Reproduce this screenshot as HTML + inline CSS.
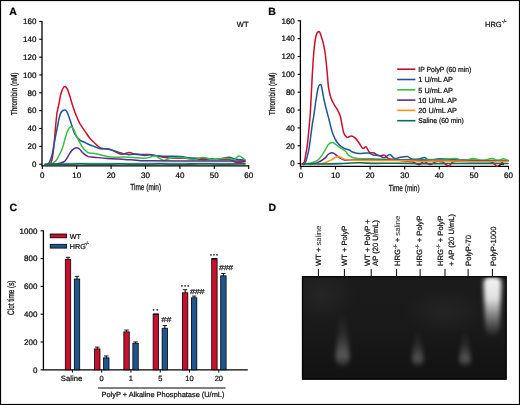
<!DOCTYPE html><html><head><meta charset="utf-8"><style>html,body{margin:0;padding:0;background:#fff;}svg{display:block;text-rendering:geometricPrecision;filter:blur(0.25px);} text{stroke:#000;stroke-width:0.22px;paint-order:stroke;}</style></head><body><svg style="will-change:transform" width="520" height="405" viewBox="0 0 520 405" font-family="Liberation Sans, sans-serif">
<rect x="0" y="0" width="520" height="405" fill="#fff"/>
<text x="9.3" y="14.8" font-size="10.5" font-weight="bold">A</text>
<text x="236.8" y="27" font-size="7.5" fill="#111">WT</text>
<line x1="42" y1="20.90" x2="42" y2="165.8" stroke="#000" stroke-width="1.3"/>
<line x1="39.2" y1="164.20" x2="42" y2="164.20" stroke="#000" stroke-width="1.1"/>
<text x="36.4" y="167.00" text-anchor="end" font-size="8" fill="#000">0</text>
<line x1="39.2" y1="146.35" x2="42" y2="146.35" stroke="#000" stroke-width="1.1"/>
<text x="36.4" y="149.15" text-anchor="end" font-size="8" fill="#000">20</text>
<line x1="39.2" y1="128.50" x2="42" y2="128.50" stroke="#000" stroke-width="1.1"/>
<text x="36.4" y="131.30" text-anchor="end" font-size="8" fill="#000">40</text>
<line x1="39.2" y1="110.65" x2="42" y2="110.65" stroke="#000" stroke-width="1.1"/>
<text x="36.4" y="113.45" text-anchor="end" font-size="8" fill="#000">60</text>
<line x1="39.2" y1="92.80" x2="42" y2="92.80" stroke="#000" stroke-width="1.1"/>
<text x="36.4" y="95.60" text-anchor="end" font-size="8" fill="#000">80</text>
<line x1="39.2" y1="74.95" x2="42" y2="74.95" stroke="#000" stroke-width="1.1"/>
<text x="36.4" y="77.75" text-anchor="end" font-size="8" fill="#000">100</text>
<line x1="39.2" y1="57.10" x2="42" y2="57.10" stroke="#000" stroke-width="1.1"/>
<text x="36.4" y="59.90" text-anchor="end" font-size="8" fill="#000">120</text>
<line x1="39.2" y1="39.25" x2="42" y2="39.25" stroke="#000" stroke-width="1.1"/>
<text x="36.4" y="42.05" text-anchor="end" font-size="8" fill="#000">140</text>
<line x1="39.2" y1="21.40" x2="42" y2="21.40" stroke="#000" stroke-width="1.1"/>
<text x="36.4" y="24.20" text-anchor="end" font-size="8" fill="#000">160</text>
<line x1="41.4" y1="165.8" x2="249.2" y2="165.8" stroke="#000" stroke-width="1.3"/>
<line x1="42.30" y1="165.8" x2="42.30" y2="169.0" stroke="#000" stroke-width="1.1"/>
<text x="42.30" y="177.8" text-anchor="middle" font-size="8" fill="#000">0</text>
<line x1="76.70" y1="165.8" x2="76.70" y2="169.0" stroke="#000" stroke-width="1.1"/>
<text x="76.70" y="177.8" text-anchor="middle" font-size="8" fill="#000">10</text>
<line x1="111.10" y1="165.8" x2="111.10" y2="169.0" stroke="#000" stroke-width="1.1"/>
<text x="111.10" y="177.8" text-anchor="middle" font-size="8" fill="#000">20</text>
<line x1="145.50" y1="165.8" x2="145.50" y2="169.0" stroke="#000" stroke-width="1.1"/>
<text x="145.50" y="177.8" text-anchor="middle" font-size="8" fill="#000">30</text>
<line x1="179.90" y1="165.8" x2="179.90" y2="169.0" stroke="#000" stroke-width="1.1"/>
<text x="179.90" y="177.8" text-anchor="middle" font-size="8" fill="#000">40</text>
<line x1="214.30" y1="165.8" x2="214.30" y2="169.0" stroke="#000" stroke-width="1.1"/>
<text x="214.30" y="177.8" text-anchor="middle" font-size="8" fill="#000">50</text>
<line x1="248.70" y1="165.8" x2="248.70" y2="169.0" stroke="#000" stroke-width="1.1"/>
<text x="248.70" y="177.8" text-anchor="middle" font-size="8" fill="#000">60</text>
<text transform="translate(17.2,115.3) rotate(-90)" font-size="8.6" textLength="42.8" lengthAdjust="spacingAndGlyphs" fill="#111" style="stroke-width:0.28px">Thrombin (nM)</text>
<text x="130.2" y="190.2" font-size="8.8" textLength="30.9" lengthAdjust="spacingAndGlyphs" fill="#111" style="stroke-width:0.25px">Time (min)</text>
<path d="M46.00,163.40 C50.00,163.37 61.00,163.25 70.00,163.20 C79.00,163.15 90.00,163.10 100.00,163.10 C110.00,163.10 120.00,163.23 130.00,163.20 C140.00,163.17 148.33,162.92 160.00,162.90 C171.67,162.88 185.83,163.10 200.00,163.10 C214.17,163.10 237.50,162.93 245.00,162.90" fill="none" stroke="#7fb8ad" stroke-width="1.0" stroke-linejoin="round" stroke-linecap="round" opacity="0.8"/>
<path d="M47.00,164.40 C47.60,164.25 49.68,164.73 50.60,163.50 C51.52,162.27 51.93,160.08 52.50,157.00 C53.07,153.92 53.48,150.10 54.00,145.00 C54.52,139.90 55.10,131.73 55.60,126.40 C56.10,121.07 56.45,116.70 57.00,113.00 C57.55,109.30 58.23,107.45 58.90,104.20 C59.57,100.95 60.10,96.42 61.00,93.50 C61.90,90.58 63.25,87.45 64.30,86.70 C65.35,85.95 66.38,87.45 67.30,89.00 C68.22,90.55 68.98,93.47 69.80,96.00 C70.62,98.53 71.15,100.98 72.20,104.20 C73.25,107.42 74.88,112.20 76.10,115.30 C77.32,118.40 78.43,120.75 79.50,122.80 C80.57,124.85 81.47,126.02 82.50,127.60 C83.53,129.18 84.45,130.47 85.70,132.30 C86.95,134.13 88.55,136.85 90.00,138.60 C91.45,140.35 92.67,141.25 94.40,142.80 C96.13,144.35 97.67,146.77 100.40,147.90 C103.13,149.03 107.35,148.55 110.80,149.60 C114.25,150.65 118.03,153.72 121.10,154.20 C124.17,154.68 126.88,152.48 129.20,152.50 C131.52,152.52 132.88,153.97 135.00,154.30 C137.12,154.63 139.40,154.45 141.90,154.50 C144.40,154.55 146.98,154.27 150.00,154.60 C153.02,154.93 156.67,155.90 160.00,156.50 C163.33,157.10 167.00,157.90 170.00,158.20 C173.00,158.50 174.67,158.27 178.00,158.30 C181.33,158.33 186.33,158.18 190.00,158.40 C193.67,158.62 195.83,159.42 200.00,159.60 C204.17,159.78 210.07,159.50 215.00,159.50 C219.93,159.50 226.27,159.18 229.60,159.60 C232.93,160.02 233.47,161.55 235.00,162.00 C236.53,162.45 237.13,162.38 238.80,162.30 C240.47,162.22 243.97,161.63 245.00,161.50" fill="none" stroke="#c8102e" stroke-width="1.5" stroke-linejoin="round" stroke-linecap="round" opacity="1"/>
<path d="M46.00,164.40 C46.45,164.25 47.70,165.07 48.70,163.50 C49.70,161.93 50.95,159.08 52.00,155.00 C53.05,150.92 54.03,144.00 55.00,139.00 C55.97,134.00 57.15,128.33 57.80,125.00 C58.45,121.67 58.37,121.08 58.90,119.00 C59.43,116.92 60.08,114.00 61.00,112.50 C61.92,111.00 63.40,110.12 64.40,110.00 C65.40,109.88 66.12,110.30 67.00,111.80 C67.88,113.30 68.92,116.80 69.70,119.00 C70.48,121.20 70.88,122.57 71.70,125.00 C72.52,127.43 73.28,131.13 74.60,133.60 C75.92,136.07 77.75,138.27 79.60,139.80 C81.45,141.33 83.97,141.93 85.70,142.80 C87.43,143.67 88.55,144.38 90.00,145.00 C91.45,145.62 92.67,145.87 94.40,146.50 C96.13,147.13 98.25,148.38 100.40,148.80 C102.55,149.22 104.42,148.48 107.30,149.00 C110.18,149.52 114.25,150.97 117.70,151.90 C121.15,152.83 124.93,154.27 128.00,154.60 C131.07,154.93 133.40,153.77 136.10,153.90 C138.80,154.03 141.88,155.25 144.20,155.40 C146.52,155.55 147.37,154.70 150.00,154.80 C152.63,154.90 156.67,155.75 160.00,156.00 C163.33,156.25 166.53,156.20 170.00,156.30 C173.47,156.40 177.47,156.32 180.80,156.60 C184.13,156.88 186.17,157.72 190.00,158.00 C193.83,158.28 199.63,158.08 203.80,158.30 C207.97,158.52 211.97,159.28 215.00,159.30 C218.03,159.32 219.70,158.73 222.00,158.40 C224.30,158.07 226.97,157.27 228.80,157.30 C230.63,157.33 231.47,158.23 233.00,158.60 C234.53,158.97 236.00,159.27 238.00,159.50 C240.00,159.73 243.83,159.92 245.00,160.00" fill="none" stroke="#1d5791" stroke-width="1.5" stroke-linejoin="round" stroke-linecap="round" opacity="1"/>
<path d="M49.00,164.30 C49.50,164.18 50.82,164.23 52.00,163.60 C53.18,162.97 54.93,161.85 56.10,160.50 C57.27,159.15 57.97,157.50 59.00,155.50 C60.03,153.50 61.30,151.25 62.30,148.50 C63.30,145.75 64.13,141.92 65.00,139.00 C65.87,136.08 66.57,133.03 67.50,131.00 C68.43,128.97 69.60,127.13 70.60,126.80 C71.60,126.47 72.52,127.47 73.50,129.00 C74.48,130.53 75.08,133.08 76.50,136.00 C77.92,138.92 80.25,143.83 82.00,146.50 C83.75,149.17 85.67,150.88 87.00,152.00 C88.33,153.12 88.77,152.95 90.00,153.20 C91.23,153.45 92.87,153.28 94.40,153.50 C95.93,153.72 96.47,153.90 99.20,154.50 C101.93,155.10 106.57,156.67 110.80,157.10 C115.03,157.53 120.38,157.00 124.60,157.10 C128.82,157.20 132.70,157.50 136.10,157.70 C139.50,157.90 142.68,158.38 145.00,158.30 C147.32,158.22 148.27,157.58 150.00,157.20 C151.73,156.82 153.15,155.47 155.40,156.00 C157.65,156.53 161.00,160.02 163.50,160.40 C166.00,160.78 167.15,158.75 170.40,158.30 C173.65,157.85 179.17,157.45 183.00,157.70 C186.83,157.95 190.07,159.83 193.40,159.80 C196.73,159.77 199.85,157.53 203.00,157.50 C206.15,157.47 209.22,159.42 212.30,159.60 C215.38,159.78 218.62,158.77 221.50,158.60 C224.38,158.43 227.48,158.43 229.60,158.60 C231.72,158.77 232.67,160.02 234.20,159.60 C235.73,159.18 237.33,156.33 238.80,156.10 C240.27,155.87 241.93,157.53 243.00,158.20 C244.07,158.87 244.83,159.78 245.20,160.10" fill="none" stroke="#3dbb4a" stroke-width="1.5" stroke-linejoin="round" stroke-linecap="round" opacity="1"/>
<path d="M52.00,164.30 C52.83,164.23 55.08,164.28 57.00,163.90 C58.92,163.52 61.92,162.82 63.50,162.00 C65.08,161.18 65.47,160.45 66.50,159.00 C67.53,157.55 68.62,154.92 69.70,153.30 C70.78,151.68 71.80,150.22 73.00,149.30 C74.20,148.38 75.73,147.77 76.90,147.80 C78.07,147.83 78.93,148.58 80.00,149.50 C81.07,150.42 81.93,152.12 83.30,153.30 C84.67,154.48 86.35,155.95 88.20,156.60 C90.05,157.25 91.22,156.87 94.40,157.20 C97.58,157.53 102.27,158.23 107.30,158.60 C112.33,158.97 119.80,159.13 124.60,159.40 C129.40,159.67 131.87,159.97 136.10,160.20 C140.33,160.43 138.52,160.68 150.00,160.80 C161.48,160.92 189.17,160.85 205.00,160.90 C220.83,160.95 238.33,161.07 245.00,161.10" fill="none" stroke="#5b2a86" stroke-width="1.5" stroke-linejoin="round" stroke-linecap="round" opacity="1"/>
<path d="M45.00,164.50 C47.50,164.47 54.17,164.40 60.00,164.30 C65.83,164.20 73.33,163.92 80.00,163.90 C86.67,163.88 93.33,164.20 100.00,164.20 C106.67,164.20 113.33,163.90 120.00,163.90 C126.67,163.90 133.33,164.20 140.00,164.20 C146.67,164.20 153.33,163.90 160.00,163.90 C166.67,163.90 173.33,164.22 180.00,164.20 C186.67,164.18 193.33,163.82 200.00,163.80 C206.67,163.78 212.50,164.10 220.00,164.10 C227.50,164.10 240.83,163.85 245.00,163.80" fill="none" stroke="#0e6b57" stroke-width="1.8" stroke-linejoin="round" stroke-linecap="round" opacity="1"/>
<text x="268.3" y="15" font-size="10.5" font-weight="bold">B</text>
<text x="485" y="27" font-size="7.5" fill="#111">HRG</text>
<text x="501.8" y="22.8" font-size="5" fill="#111">-/-</text>
<line x1="300.4" y1="20.30" x2="300.4" y2="166.3" stroke="#000" stroke-width="1.3"/>
<line x1="297.59999999999997" y1="163.60" x2="300.4" y2="163.60" stroke="#000" stroke-width="1.1"/>
<text x="294.79999999999995" y="166.40" text-anchor="end" font-size="8" fill="#000">0</text>
<line x1="297.59999999999997" y1="145.75" x2="300.4" y2="145.75" stroke="#000" stroke-width="1.1"/>
<text x="294.79999999999995" y="148.55" text-anchor="end" font-size="8" fill="#000">20</text>
<line x1="297.59999999999997" y1="127.90" x2="300.4" y2="127.90" stroke="#000" stroke-width="1.1"/>
<text x="294.79999999999995" y="130.70" text-anchor="end" font-size="8" fill="#000">40</text>
<line x1="297.59999999999997" y1="110.05" x2="300.4" y2="110.05" stroke="#000" stroke-width="1.1"/>
<text x="294.79999999999995" y="112.85" text-anchor="end" font-size="8" fill="#000">60</text>
<line x1="297.59999999999997" y1="92.20" x2="300.4" y2="92.20" stroke="#000" stroke-width="1.1"/>
<text x="294.79999999999995" y="95.00" text-anchor="end" font-size="8" fill="#000">80</text>
<line x1="297.59999999999997" y1="74.35" x2="300.4" y2="74.35" stroke="#000" stroke-width="1.1"/>
<text x="294.79999999999995" y="77.15" text-anchor="end" font-size="8" fill="#000">100</text>
<line x1="297.59999999999997" y1="56.50" x2="300.4" y2="56.50" stroke="#000" stroke-width="1.1"/>
<text x="294.79999999999995" y="59.30" text-anchor="end" font-size="8" fill="#000">120</text>
<line x1="297.59999999999997" y1="38.65" x2="300.4" y2="38.65" stroke="#000" stroke-width="1.1"/>
<text x="294.79999999999995" y="41.45" text-anchor="end" font-size="8" fill="#000">140</text>
<line x1="297.59999999999997" y1="20.80" x2="300.4" y2="20.80" stroke="#000" stroke-width="1.1"/>
<text x="294.79999999999995" y="23.60" text-anchor="end" font-size="8" fill="#000">160</text>
<line x1="299.79999999999995" y1="166.3" x2="509" y2="166.3" stroke="#000" stroke-width="1.3"/>
<line x1="300.90" y1="166.3" x2="300.90" y2="169.5" stroke="#000" stroke-width="1.1"/>
<text x="300.90" y="178.3" text-anchor="middle" font-size="8" fill="#000">0</text>
<line x1="335.50" y1="166.3" x2="335.50" y2="169.5" stroke="#000" stroke-width="1.1"/>
<text x="335.50" y="178.3" text-anchor="middle" font-size="8" fill="#000">10</text>
<line x1="370.10" y1="166.3" x2="370.10" y2="169.5" stroke="#000" stroke-width="1.1"/>
<text x="370.10" y="178.3" text-anchor="middle" font-size="8" fill="#000">20</text>
<line x1="404.70" y1="166.3" x2="404.70" y2="169.5" stroke="#000" stroke-width="1.1"/>
<text x="404.70" y="178.3" text-anchor="middle" font-size="8" fill="#000">30</text>
<line x1="439.30" y1="166.3" x2="439.30" y2="169.5" stroke="#000" stroke-width="1.1"/>
<text x="439.30" y="178.3" text-anchor="middle" font-size="8" fill="#000">40</text>
<line x1="473.90" y1="166.3" x2="473.90" y2="169.5" stroke="#000" stroke-width="1.1"/>
<text x="473.90" y="178.3" text-anchor="middle" font-size="8" fill="#000">50</text>
<line x1="508.50" y1="166.3" x2="508.50" y2="169.5" stroke="#000" stroke-width="1.1"/>
<text x="508.50" y="178.3" text-anchor="middle" font-size="8" fill="#000">60</text>
<text transform="translate(274.7,115.3) rotate(-90)" font-size="8.6" textLength="42.8" lengthAdjust="spacingAndGlyphs" fill="#111" style="stroke-width:0.28px">Thrombin (nM)</text>
<text x="388.7" y="190.6" font-size="8.8" textLength="30.9" lengthAdjust="spacingAndGlyphs" fill="#111" style="stroke-width:0.25px">Time (min)</text>
<path d="M301.80,164.00 C302.22,163.67 303.60,163.83 304.30,162.00 C305.00,160.17 305.48,155.88 306.00,153.00 C306.52,150.12 306.85,149.37 307.40,144.70 C307.95,140.03 308.78,130.78 309.30,125.00 C309.82,119.22 310.00,118.33 310.50,110.00 C311.00,101.67 311.72,85.00 312.30,75.00 C312.88,65.00 313.38,56.50 314.00,50.00 C314.62,43.50 315.32,39.03 316.00,36.00 C316.68,32.97 317.35,32.13 318.10,31.80 C318.85,31.47 319.40,30.97 320.50,34.00 C321.60,37.03 323.55,43.17 324.70,50.00 C325.85,56.83 326.77,68.78 327.40,75.00 C328.03,81.22 327.90,83.47 328.50,87.30 C329.10,91.13 329.93,94.90 331.00,98.00 C332.07,101.10 333.82,103.93 334.90,105.90 C335.98,107.87 336.62,108.12 337.50,109.80 C338.38,111.48 339.53,113.97 340.20,116.00 C340.87,118.03 340.90,119.17 341.50,122.00 C342.10,124.83 342.90,130.45 343.80,133.00 C344.70,135.55 345.68,136.78 346.90,137.30 C348.12,137.82 349.83,136.08 351.10,136.10 C352.37,136.12 353.25,136.38 354.50,137.40 C355.75,138.42 357.23,140.38 358.60,142.20 C359.97,144.02 361.45,147.52 362.70,148.30 C363.95,149.08 364.97,146.22 366.10,146.90 C367.23,147.58 368.15,151.38 369.50,152.40 C370.85,153.42 372.62,152.43 374.20,153.00 C375.78,153.57 377.30,155.45 379.00,155.80 C380.70,156.15 382.82,154.65 384.40,155.10 C385.98,155.55 386.73,157.77 388.50,158.50 C390.27,159.23 392.25,159.08 395.00,159.50 C397.75,159.92 402.17,160.67 405.00,161.00 C407.83,161.33 409.70,160.87 412.00,161.50 C414.30,162.13 416.80,164.80 418.80,164.80 C420.80,164.80 422.07,161.53 424.00,161.50 C425.93,161.47 428.40,164.60 430.40,164.60 C432.40,164.60 434.07,161.97 436.00,161.50 C437.93,161.03 439.87,161.05 442.00,161.80 C444.13,162.55 446.80,166.05 448.80,166.00 C450.80,165.95 450.47,162.28 454.00,161.50 C457.53,160.72 464.00,161.30 470.00,161.30 C476.00,161.30 485.42,160.67 490.00,161.50 C494.58,162.33 495.33,166.30 497.50,166.30 C499.67,166.30 501.25,162.38 503.00,161.50 C504.75,160.62 507.17,161.08 508.00,161.00" fill="none" stroke="#c8102e" stroke-width="1.5" stroke-linejoin="round" stroke-linecap="round" opacity="1"/>
<path d="M302.50,164.00 C302.92,163.92 303.98,165.68 305.00,163.50 C306.02,161.32 307.68,155.15 308.60,150.90 C309.52,146.65 309.88,142.42 310.50,138.00 C311.12,133.58 311.78,127.90 312.30,124.40 C312.82,120.90 312.98,121.07 313.60,117.00 C314.22,112.93 315.27,104.75 316.00,100.00 C316.73,95.25 317.37,91.07 318.00,88.50 C318.63,85.93 319.22,84.93 319.80,84.60 C320.38,84.27 320.80,83.98 321.50,86.50 C322.20,89.02 323.17,95.78 324.00,99.70 C324.83,103.62 325.67,106.70 326.50,110.00 C327.33,113.30 328.38,117.10 329.00,119.50 C329.62,121.90 329.58,122.05 330.20,124.40 C330.82,126.75 331.57,130.63 332.70,133.60 C333.83,136.57 335.25,139.83 337.00,142.20 C338.75,144.57 341.03,146.47 343.20,147.80 C345.37,149.13 348.57,149.55 350.00,150.20 C351.43,150.85 350.37,151.15 351.80,151.70 C353.23,152.25 355.88,153.28 358.60,153.50 C361.32,153.72 365.62,152.73 368.10,153.00 C370.58,153.27 371.68,154.68 373.50,155.10 C375.32,155.52 377.18,155.05 379.00,155.50 C380.82,155.95 382.60,157.98 384.40,157.80 C386.20,157.62 388.10,154.28 389.80,154.40 C391.50,154.52 392.83,158.02 394.60,158.50 C396.37,158.98 398.28,157.63 400.40,157.30 C402.52,156.97 405.38,156.22 407.30,156.50 C409.22,156.78 409.98,158.58 411.90,159.00 C413.82,159.42 416.68,159.23 418.80,159.00 C420.92,158.77 422.87,157.40 424.60,157.60 C426.33,157.80 426.70,160.00 429.20,160.20 C431.70,160.40 436.13,158.90 439.60,158.80 C443.07,158.70 444.93,159.40 450.00,159.60 C455.07,159.80 463.33,159.87 470.00,160.00 C476.67,160.13 483.67,160.32 490.00,160.40 C496.33,160.48 505.00,160.48 508.00,160.50" fill="none" stroke="#1d5791" stroke-width="1.5" stroke-linejoin="round" stroke-linecap="round" opacity="1"/>
<path d="M306.00,163.60 C307.00,163.45 309.92,163.38 312.00,162.70 C314.08,162.02 316.38,161.47 318.50,159.50 C320.62,157.53 323.12,153.32 324.70,150.90 C326.28,148.48 326.80,146.38 328.00,145.00 C329.20,143.62 330.73,142.80 331.90,142.60 C333.07,142.40 333.73,143.03 335.00,143.80 C336.27,144.57 337.72,145.92 339.50,147.20 C341.28,148.48 344.10,150.10 345.70,151.50 C347.30,152.90 347.40,154.48 349.10,155.60 C350.80,156.72 352.05,157.67 355.90,158.20 C359.75,158.73 365.68,158.57 372.20,158.80 C378.72,159.03 387.03,159.48 395.00,159.60 C402.97,159.72 412.50,159.50 420.00,159.50 C427.50,159.50 434.17,159.75 440.00,159.60 C445.83,159.45 451.00,158.43 455.00,158.60 C459.00,158.77 461.00,160.60 464.00,160.60 C467.00,160.60 470.00,158.60 473.00,158.60 C476.00,158.60 478.83,160.60 482.00,160.60 C485.17,160.60 489.33,158.63 492.00,158.60 C494.67,158.57 496.05,160.37 498.00,160.40 C499.95,160.43 502.03,158.77 503.70,158.80 C505.37,158.83 507.28,160.30 508.00,160.60" fill="none" stroke="#3dbb4a" stroke-width="1.5" stroke-linejoin="round" stroke-linecap="round" opacity="1"/>
<path d="M310.00,164.00 C311.22,163.77 314.85,163.55 317.30,162.60 C319.75,161.65 322.92,159.65 324.70,158.30 C326.48,156.95 326.87,155.43 328.00,154.50 C329.13,153.57 330.50,152.88 331.50,152.70 C332.50,152.52 333.08,152.88 334.00,153.40 C334.92,153.92 335.47,154.78 337.00,155.80 C338.53,156.82 341.03,158.78 343.20,159.50 C345.37,160.22 341.37,160.02 350.00,160.10 C358.63,160.18 378.33,159.92 395.00,160.00 C411.67,160.08 431.17,160.43 450.00,160.60 C468.83,160.77 498.33,160.93 508.00,161.00" fill="none" stroke="#5b2a86" stroke-width="1.5" stroke-linejoin="round" stroke-linecap="round" opacity="1"/>
<path d="M318.00,164.00 C318.70,163.90 320.87,163.70 322.20,163.40 C323.53,163.10 324.55,162.75 326.00,162.20 C327.45,161.65 329.48,160.83 330.90,160.10 C332.32,159.37 333.28,158.37 334.50,157.80 C335.72,157.23 337.15,156.78 338.20,156.70 C339.25,156.62 339.97,156.93 340.80,157.30 C341.63,157.67 341.67,158.43 343.20,158.90 C344.73,159.37 346.30,159.83 350.00,160.10 C353.70,160.37 357.90,160.43 365.40,160.50 C372.90,160.57 385.90,160.38 395.00,160.50 C404.10,160.62 410.83,161.12 420.00,161.20 C429.17,161.28 440.00,160.97 450.00,161.00 C460.00,161.03 470.33,161.37 480.00,161.40 C489.67,161.43 503.33,161.23 508.00,161.20" fill="none" stroke="#f7941d" stroke-width="1.5" stroke-linejoin="round" stroke-linecap="round" opacity="1"/>
<path d="M303.50,164.00 C306.25,164.00 313.92,164.07 320.00,164.00 C326.08,163.93 333.57,163.80 340.00,163.60 C346.43,163.40 352.77,162.83 358.60,162.80 C364.43,162.77 368.93,163.33 375.00,163.40 C381.07,163.47 385.83,163.17 395.00,163.20 C404.17,163.23 417.50,163.57 430.00,163.60 C442.50,163.63 457.00,163.42 470.00,163.40 C483.00,163.38 501.67,163.48 508.00,163.50" fill="none" stroke="#0e6b57" stroke-width="1.6" stroke-linejoin="round" stroke-linecap="round" opacity="1"/>
<path d="M498,166.5 L502,164.2 L504,164.4" stroke="#111" stroke-width="1" fill="none"/>
<line x1="397.2" y1="69.20" x2="415.4" y2="69.20" stroke="#c8102e" stroke-width="1.6"/>
<text x="418.3" y="71.90" font-size="7.3" fill="#111" textLength="53" lengthAdjust="spacingAndGlyphs">IP PolyP (60 min)</text>
<line x1="397.2" y1="79.50" x2="415.4" y2="79.50" stroke="#1d5791" stroke-width="1.6"/>
<text x="418.3" y="82.20" font-size="7.3" fill="#111">1 U/mL AP</text>
<line x1="397.2" y1="89.80" x2="415.4" y2="89.80" stroke="#3dbb4a" stroke-width="1.6"/>
<text x="418.3" y="92.50" font-size="7.3" fill="#111">5 U/mL AP</text>
<line x1="397.2" y1="100.10" x2="415.4" y2="100.10" stroke="#5b2a86" stroke-width="1.6"/>
<text x="418.3" y="102.80" font-size="7.3" fill="#111">10 U/mL AP</text>
<line x1="397.2" y1="110.40" x2="415.4" y2="110.40" stroke="#f7941d" stroke-width="1.6"/>
<text x="418.3" y="113.10" font-size="7.3" fill="#111">20 U/mL AP</text>
<line x1="397.2" y1="120.70" x2="415.4" y2="120.70" stroke="#0e6b57" stroke-width="1.6"/>
<text x="418.3" y="123.40" font-size="7.3" fill="#111" textLength="45.5" lengthAdjust="spacingAndGlyphs">Saline (60 min)</text>
<text x="9.5" y="211.3" font-size="10.5" font-weight="bold">C</text>
<line x1="43.4" y1="230.30" x2="43.4" y2="369.8" stroke="#000" stroke-width="1.3"/>
<line x1="40.6" y1="369.80" x2="43.4" y2="369.80" stroke="#000" stroke-width="1.1"/>
<text x="37.4" y="372.60" text-anchor="end" font-size="8" fill="#000">0</text>
<line x1="40.6" y1="342.00" x2="43.4" y2="342.00" stroke="#000" stroke-width="1.1"/>
<text x="37.4" y="344.80" text-anchor="end" font-size="8" fill="#000">200</text>
<line x1="40.6" y1="314.20" x2="43.4" y2="314.20" stroke="#000" stroke-width="1.1"/>
<text x="37.4" y="317.00" text-anchor="end" font-size="8" fill="#000">400</text>
<line x1="40.6" y1="286.40" x2="43.4" y2="286.40" stroke="#000" stroke-width="1.1"/>
<text x="37.4" y="289.20" text-anchor="end" font-size="8" fill="#000">600</text>
<line x1="40.6" y1="258.60" x2="43.4" y2="258.60" stroke="#000" stroke-width="1.1"/>
<text x="37.4" y="261.40" text-anchor="end" font-size="8" fill="#000">800</text>
<line x1="40.6" y1="230.80" x2="43.4" y2="230.80" stroke="#000" stroke-width="1.1"/>
<text x="37.4" y="233.60" text-anchor="end" font-size="8" fill="#000">1000</text>
<line x1="42.8" y1="369.8" x2="247.8" y2="369.8" stroke="#000" stroke-width="1.3"/>
<text transform="translate(13.8,314.9) rotate(-90)" font-size="9.2" textLength="34.4" lengthAdjust="spacingAndGlyphs" fill="#111" style="stroke-width:0.28px">Clot time (s)</text>
<line x1="68.00" y1="257.30" x2="68.00" y2="259.30" stroke="#000" stroke-width="1"/>
<line x1="65.80" y1="257.30" x2="70.20" y2="257.30" stroke="#000" stroke-width="0.9"/>
<rect x="65.30" y="259.30" width="5.4" height="110.50" fill="#c8102e" stroke="#000" stroke-width="0.8"/>
<line x1="77.00" y1="276.33" x2="77.00" y2="279.03" stroke="#000" stroke-width="1"/>
<line x1="74.80" y1="276.33" x2="79.20" y2="276.33" stroke="#000" stroke-width="0.9"/>
<rect x="74.30" y="279.03" width="5.4" height="90.77" fill="#1d5791" stroke="#000" stroke-width="0.8"/>
<line x1="72.40" y1="369.8" x2="72.40" y2="372.6" stroke="#000" stroke-width="1"/>
<text x="71.50" y="381.40000000000003" text-anchor="middle" font-size="7.7" fill="#111">Saline</text>
<line x1="97.28" y1="347.15" x2="97.28" y2="348.95" stroke="#000" stroke-width="1"/>
<line x1="95.08" y1="347.15" x2="99.48" y2="347.15" stroke="#000" stroke-width="0.9"/>
<rect x="94.58" y="348.95" width="5.4" height="20.85" fill="#c8102e" stroke="#000" stroke-width="0.8"/>
<line x1="106.28" y1="355.95" x2="106.28" y2="357.85" stroke="#000" stroke-width="1"/>
<line x1="104.08" y1="355.95" x2="108.48" y2="355.95" stroke="#000" stroke-width="0.9"/>
<rect x="103.58" y="357.85" width="5.4" height="11.95" fill="#1d5791" stroke="#000" stroke-width="0.8"/>
<line x1="101.68" y1="369.8" x2="101.68" y2="372.6" stroke="#000" stroke-width="1"/>
<text x="101.68" y="381.40000000000003" text-anchor="middle" font-size="7.5" fill="#111">0</text>
<line x1="126.56" y1="330.05" x2="126.56" y2="331.85" stroke="#000" stroke-width="1"/>
<line x1="124.36" y1="330.05" x2="128.76" y2="330.05" stroke="#000" stroke-width="0.9"/>
<rect x="123.86" y="331.85" width="5.4" height="37.95" fill="#c8102e" stroke="#000" stroke-width="0.8"/>
<line x1="135.56" y1="341.95" x2="135.56" y2="343.25" stroke="#000" stroke-width="1"/>
<line x1="133.36" y1="341.95" x2="137.76" y2="341.95" stroke="#000" stroke-width="0.9"/>
<rect x="132.86" y="343.25" width="5.4" height="26.55" fill="#1d5791" stroke="#000" stroke-width="0.8"/>
<line x1="130.96" y1="369.8" x2="130.96" y2="372.6" stroke="#000" stroke-width="1"/>
<text x="130.96" y="381.40000000000003" text-anchor="middle" font-size="7.5" fill="#111">1</text>
<rect x="153.14" y="314.20" width="5.4" height="55.60" fill="#c8102e" stroke="#000" stroke-width="0.8"/>
<line x1="153.14" y1="314.20" x2="158.54" y2="314.20" stroke="#000" stroke-width="1.4"/>
<line x1="164.84" y1="325.54" x2="164.84" y2="328.24" stroke="#000" stroke-width="1"/>
<line x1="162.64" y1="325.54" x2="167.04" y2="325.54" stroke="#000" stroke-width="0.9"/>
<rect x="162.14" y="328.24" width="5.4" height="41.56" fill="#1d5791" stroke="#000" stroke-width="0.8"/>
<line x1="160.24" y1="369.8" x2="160.24" y2="372.6" stroke="#000" stroke-width="1"/>
<text x="160.24" y="381.40000000000003" text-anchor="middle" font-size="7.5" fill="#111">5</text>
<line x1="185.12" y1="289.69" x2="185.12" y2="292.79" stroke="#000" stroke-width="1"/>
<line x1="182.92" y1="289.69" x2="187.32" y2="289.69" stroke="#000" stroke-width="0.9"/>
<rect x="182.42" y="292.79" width="5.4" height="77.01" fill="#c8102e" stroke="#000" stroke-width="0.8"/>
<line x1="194.12" y1="296.10" x2="194.12" y2="297.80" stroke="#000" stroke-width="1"/>
<line x1="191.92" y1="296.10" x2="196.32" y2="296.10" stroke="#000" stroke-width="0.9"/>
<rect x="191.42" y="297.80" width="5.4" height="72.00" fill="#1d5791" stroke="#000" stroke-width="0.8"/>
<line x1="189.52" y1="369.8" x2="189.52" y2="372.6" stroke="#000" stroke-width="1"/>
<text x="189.52" y="381.40000000000003" text-anchor="middle" font-size="7.5" fill="#111">10</text>
<rect x="211.70" y="258.74" width="5.4" height="111.06" fill="#c8102e" stroke="#000" stroke-width="0.8"/>
<line x1="211.70" y1="258.74" x2="217.10" y2="258.74" stroke="#000" stroke-width="1.4"/>
<line x1="223.40" y1="273.44" x2="223.40" y2="275.84" stroke="#000" stroke-width="1"/>
<line x1="221.20" y1="273.44" x2="225.60" y2="273.44" stroke="#000" stroke-width="0.9"/>
<rect x="220.70" y="275.84" width="5.4" height="93.96" fill="#1d5791" stroke="#000" stroke-width="0.8"/>
<line x1="218.80" y1="369.8" x2="218.80" y2="372.6" stroke="#000" stroke-width="1"/>
<text x="218.80" y="381.40000000000003" text-anchor="middle" font-size="7.5" fill="#111">20</text>
<circle cx="153.6" cy="309.8" r="0.85" fill="#1a1a1a"/>
<circle cx="157.2" cy="309.8" r="0.85" fill="#1a1a1a"/>
<circle cx="181.9" cy="285.8" r="0.85" fill="#1a1a1a"/>
<circle cx="185.1" cy="285.8" r="0.85" fill="#1a1a1a"/>
<circle cx="188.2" cy="285.8" r="0.85" fill="#1a1a1a"/>
<circle cx="211" cy="254.8" r="0.85" fill="#1a1a1a"/>
<circle cx="214" cy="254.8" r="0.85" fill="#1a1a1a"/>
<circle cx="217" cy="254.8" r="0.85" fill="#1a1a1a"/>
<text x="161.3" y="322" font-size="7.2" font-style="italic" fill="#444" textLength="9.7" lengthAdjust="spacingAndGlyphs" style="stroke:#444;stroke-width:0.35px">##</text>
<text x="189.9" y="293.7" font-size="7.2" font-style="italic" fill="#444" textLength="14.4" lengthAdjust="spacingAndGlyphs" style="stroke:#444;stroke-width:0.35px">###</text>
<text x="219" y="270.4" font-size="7.2" font-style="italic" fill="#444" textLength="14.0" lengthAdjust="spacingAndGlyphs" style="stroke:#444;stroke-width:0.35px">###</text>
<rect x="50.2" y="234" width="16.4" height="3.8" fill="#c8102e" stroke="#000" stroke-width="0.8"/>
<rect x="50.2" y="244.3" width="16.4" height="3.8" fill="#1d5791" stroke="#000" stroke-width="0.8"/>
<text x="69.8" y="238.6" font-size="7.2" fill="#111">WT</text>
<text x="69.8" y="248.8" font-size="7.2" fill="#111">HRG</text>
<text x="84.6" y="245" font-size="4.8" fill="#111">-/-</text>
<line x1="98" y1="388" x2="225.6" y2="388" stroke="#000" stroke-width="1.1"/>
<text x="101.5" y="397.4" font-size="7.4" fill="#111">PolyP + Alkaline Phosphatase (U/mL)</text>
<text x="268.5" y="211.2" font-size="10.5" font-weight="bold">D</text>
<defs><filter id="bl" x="-50%" y="-50%" width="200%" height="200%"><feGaussianBlur stdDeviation="2.2"/></filter><filter id="bl2" x="-50%" y="-50%" width="200%" height="200%"><feGaussianBlur stdDeviation="5"/></filter><clipPath id="gc"><rect x="302.5" y="276.7" width="203.7" height="102.5"/></clipPath></defs>
<defs><linearGradient id="gbg" x1="0" y1="0" x2="0" y2="1"><stop offset="0" stop-color="#1c1c1c"/><stop offset="0.5" stop-color="#191919"/><stop offset="1" stop-color="#121212"/></linearGradient></defs>
<rect x="302.5" y="276.7" width="203.7" height="102.5" fill="url(#gbg)"/>
<defs><linearGradient id="sm" x1="0" y1="0" x2="0" y2="1"><stop offset="0" stop-color="#fff" stop-opacity="0"/><stop offset="0.4" stop-color="#fff" stop-opacity="0.09"/><stop offset="0.8" stop-color="#fff" stop-opacity="0.29"/><stop offset="1" stop-color="#fff" stop-opacity="0.08"/></linearGradient><linearGradient id="pb" x1="0" y1="0" x2="0" y2="1" gradientUnits="userSpaceOnUse" gradientTransform="translate(0,277) scale(1,62)"><stop offset="0" stop-color="#fff" stop-opacity="0.96"/><stop offset="0.35" stop-color="#fff" stop-opacity="0.86"/><stop offset="0.62" stop-color="#fff" stop-opacity="0.45"/><stop offset="0.82" stop-color="#fff" stop-opacity="0.18"/><stop offset="1" stop-color="#fff" stop-opacity="0"/></linearGradient><radialGradient id="hz" cx="0.5" cy="0.5" r="0.5"><stop offset="0" stop-color="#fff" stop-opacity="0.045"/><stop offset="1" stop-color="#fff" stop-opacity="0"/></radialGradient></defs>
<g clip-path="url(#gc)">
<ellipse cx="322" cy="296" rx="34" ry="28" fill="url(#hz)"/>
<ellipse cx="445" cy="312" rx="42" ry="24" fill="url(#hz)"/>
<path d="M339.60,314.00 L345.60,314.00 L349.60,356.64 Q349.60,366.00 342.60,366.00 Q335.60,366.00 335.60,356.64 Z" fill="url(#sm)" filter="url(#bl)" opacity="1.0"/>
<path d="M415.30,330.00 L420.30,330.00 L423.55,359.52 Q423.55,366.00 417.80,366.00 Q412.05,366.00 412.05,359.52 Z" fill="url(#sm)" filter="url(#bl)" opacity="0.9"/>
<path d="M462.50,331.00 L467.50,331.00 L470.75,359.70 Q470.75,366.00 465.00,366.00 Q459.25,366.00 459.25,359.70 Z" fill="url(#sm)" filter="url(#bl)" opacity="0.95"/>
<path d="M483.5,284 Q483.5,277 490,277 L495,277 Q501.5,277 501.5,284 L499.5,330 Q492.5,342 485.5,330 Z" fill="url(#pb)" filter="url(#bl)"/>
</g>
<rect x="302.5" y="276.7" width="203.7" height="102.5" fill="none" stroke="#000" stroke-width="1.3"/>
<line x1="318.4" y1="269" x2="318.4" y2="276" stroke="#000" stroke-width="1"/>
<line x1="344.4" y1="269" x2="344.4" y2="276" stroke="#000" stroke-width="1"/>
<line x1="371.2" y1="269" x2="371.2" y2="276" stroke="#000" stroke-width="1"/>
<line x1="396.6" y1="269" x2="396.6" y2="276" stroke="#000" stroke-width="1"/>
<line x1="420.1" y1="269" x2="420.1" y2="276" stroke="#000" stroke-width="1"/>
<line x1="445" y1="269" x2="445" y2="276" stroke="#000" stroke-width="1"/>
<line x1="468.1" y1="269" x2="468.1" y2="276" stroke="#000" stroke-width="1"/>
<line x1="492.4" y1="269" x2="492.4" y2="276" stroke="#000" stroke-width="1"/>
<text transform="translate(321,265.9) rotate(-90)" font-size="7.6" fill="#111">WT + <tspan fill="#333" style="stroke-width:0.05px">saline</tspan></text>
<text transform="translate(347,265.9) rotate(-90)" font-size="7.6" fill="#111">WT + PolyP</text>
<text transform="translate(369.8,265.9) rotate(-90)" font-size="7.6" fill="#111">WT + PolyP +</text>
<text transform="translate(378.4,265.9) rotate(-90)" font-size="7.6" fill="#111">AP (20 U/mL)</text>
<text transform="translate(400.3,265.9) rotate(-90)" font-size="7.6" fill="#111">HRG<tspan font-size="5" dy="-3">-/-</tspan><tspan dy="3"> + </tspan><tspan fill="#333" style="stroke-width:0.05px">saline</tspan></text>
<text transform="translate(422,265.9) rotate(-90)" font-size="7.6" fill="#111">HRG<tspan font-size="5" dy="-3">-/-</tspan><tspan dy="3"> + PolyP</tspan></text>
<text transform="translate(443.3,265.9) rotate(-90)" font-size="7.6" fill="#111">HRG<tspan font-size="5" dy="-3">-/-</tspan><tspan dy="3"> + PolyP</tspan></text>
<text transform="translate(453.6,265.9) rotate(-90)" font-size="7.6" fill="#111">+ AP (20 U/mL)</text>
<text transform="translate(471,265.9) rotate(-90)" font-size="7.6" fill="#111">PolyP-70</text>
<text transform="translate(496,265.9) rotate(-90)" font-size="7.6" fill="#111">PolyP-1000</text>
<rect x="0.5" y="0.5" width="519" height="404" fill="none" stroke="#000" stroke-width="1.2"/>
</svg></body></html>
